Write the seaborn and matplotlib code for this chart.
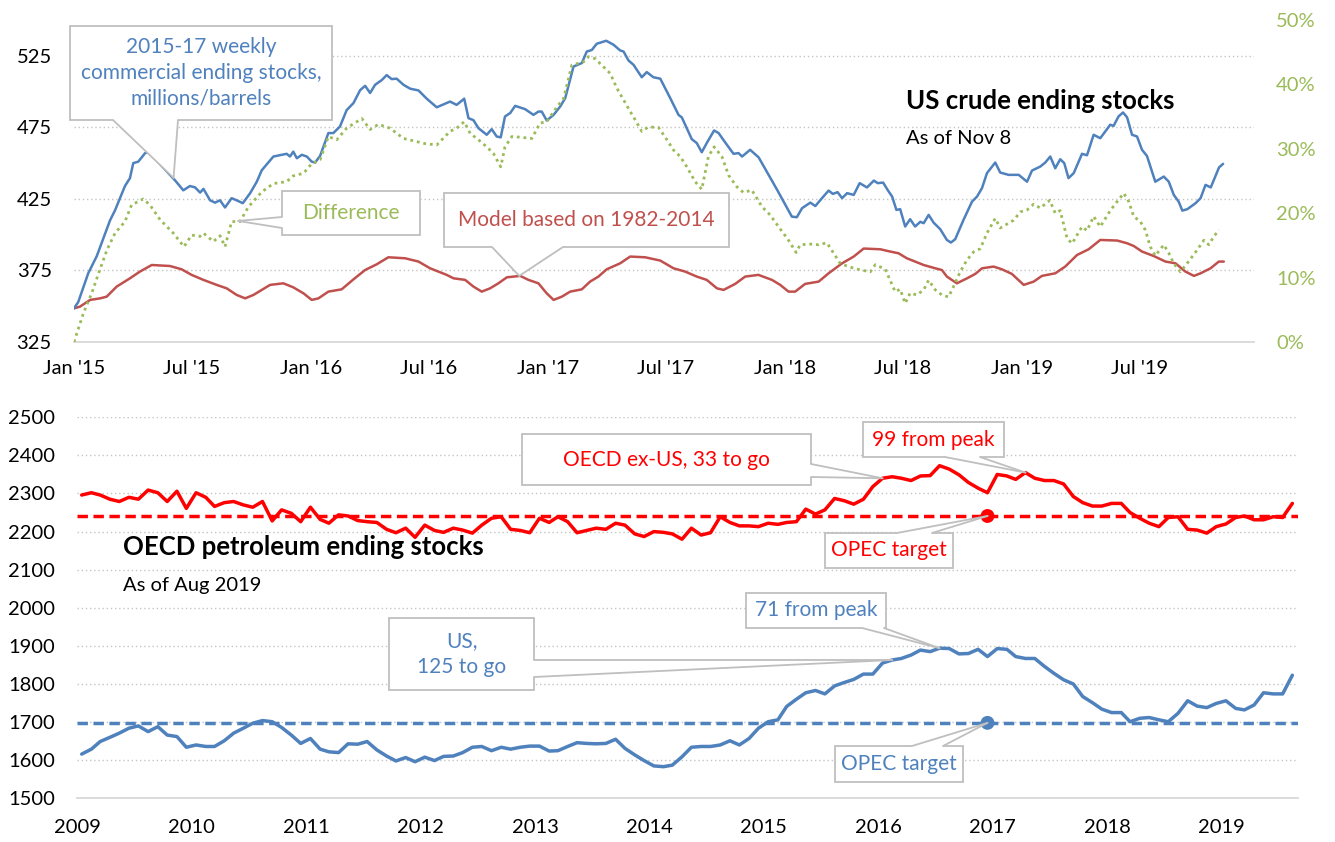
import numpy as np
import pandas as pd
import matplotlib
matplotlib.use('Agg')
import matplotlib.pyplot as plt
import matplotlib.dates as mdates
from matplotlib.patches import Rectangle, Polygon
from matplotlib.lines import Line2D
from matplotlib.ticker import PercentFormatter
import seaborn as sns

# ---------------- top chart: US crude ending stocks (weekly) ----------------
# x values are decimal years
stock_yr = [2015 + t for t in [
    0, .018, .060, .096, .152, .173, .215, .236, .250, .271,
    .300, .320, .370, .426, .461, .489, .511, .532, .546, .574,
    .595, .616, .637, .665, .686, .712, .743, .771, .792, .841,
    .897, .911, .925, .940, .961, .982, 1.003, 1.017, 1.038, 1.073,
    1.094, 1.122, 1.150, 1.179, 1.207, 1.228, 1.249, 1.270, 1.298, 1.319,
    1.340, 1.361, 1.390, 1.418, 1.453, 1.488, 1.530, 1.586, 1.614, 1.646,
    1.664, 1.685, 1.706, 1.741, 1.762, 1.783, 1.800, 1.818, 1.840, 1.861,
    1.903, 1.938, 1.959, 1.973, 1.994, 2.023, 2.051, 2.072, 2.107, 2.142,
    2.163, 2.184, 2.205, 2.245, 2.276, 2.304, 2.318, 2.339, 2.360, 2.395,
    2.416, 2.444, 2.473, 2.515, 2.550, 2.564, 2.606, 2.627, 2.648, 2.669,
    2.700, 2.719, 2.747, 2.782, 2.803, 2.818, 2.852, 2.888, 2.930, 2.966,
    3.001, 3.028, 3.049, 3.071, 3.106, 3.127, 3.155, 3.183, 3.201, 3.221,
    3.240, 3.261, 3.289, 3.314, 3.345, 3.374, 3.390, 3.413, 3.433, 3.451,
    3.469, 3.485, 3.506, 3.527, 3.548, 3.570, 3.584, 3.605, 3.626, 3.654,
    3.682, 3.699, 3.717, 3.752, 3.788, 3.809, 3.830, 3.851, 3.886, 3.907,
    3.942, 3.985, 4.020, 4.041, 4.076, 4.097, 4.118, 4.139, 4.160, 4.177,
    4.195, 4.217, 4.252, 4.273, 4.301, 4.329, 4.371, 4.385, 4.406, 4.425,
    4.442, 4.463, 4.484, 4.505, 4.526, 4.561, 4.597, 4.618, 4.639, 4.660,
    4.675, 4.696, 4.731, 4.752, 4.773, 4.795, 4.830, 4.847]]
stock_val = [
    348.5, 353, 373, 385, 410, 417, 434, 439.5, 450, 451,
    457, 458, 448, 438, 431, 434, 433, 429.4, 432, 424,
    422.4, 424, 419, 425.5, 424, 422, 429, 437, 445, 454.6,
    456.5, 454.6, 458, 453.4, 455.8, 454.6, 451, 450.4, 455, 471,
    471, 475.6, 487, 492, 501, 504, 499, 504.7, 508, 511.5,
    508.7, 509, 504.7, 502, 500.8, 495, 489, 493, 490.7, 495,
    481.4, 480, 474.4, 469.8, 473.7, 468.6, 468, 482.6, 485, 490,
    487.7, 483.7, 486, 486, 479.8, 483.7, 489.6, 495.4, 517.5, 519.9,
    528, 529, 533.4, 535.5, 532.7, 528.7, 528, 521.7, 518.7, 510,
    513.6, 510, 509, 495.4, 483.7, 481.9, 466.7, 464, 457.6, 464,
    472.8, 471, 464.4, 456.5, 457, 454.6, 459.3, 454, 441.8, 431.3,
    420.8, 412.6, 412.2, 418.5, 422.4, 420, 425.5, 430.8, 428.5, 429.7,
    425.5, 429, 427.8, 436, 433, 437.8, 436, 436.4, 431, 426.6,
    417.3, 417.8, 405.7, 410.8, 405.7, 409, 408, 413.8, 408.4, 403.8,
    396.3, 394.5, 396.8, 410.3, 423.1, 426.6, 432.5, 443, 450.4, 443.4,
    441.8, 441.8, 437, 444.8, 447.6, 450.4, 454.6, 446.4, 452.7, 450,
    439.5, 443, 456.5, 455.5, 469.8, 467.4, 476.8, 476, 482.6, 485.4,
    482, 469.8, 468.6, 459.3, 455, 437, 440.6, 437, 427.8, 423,
    416.8, 417.8, 422, 425.5, 434.8, 433, 447, 449.5]

diff_yr = [2015 + t for t in [
    0, .04, .075, .105, .139, .173, .215, .243, .292, .320,
    .363, .419, .464, .496, .531, .546, .588, .616, .637, .665,
    .700, .736, .792, .841, .897, .925, .968, 1.003, 1.038, 1.073,
    1.108, 1.150, 1.214, 1.249, 1.284, 1.333, 1.390, 1.425, 1.481, 1.530,
    1.586, 1.614, 1.646, 1.671, 1.706, 1.741, 1.769, 1.800, 1.818, 1.847,
    1.882, 1.931, 1.966, 1.994, 2.037, 2.065, 2.100, 2.149, 2.170, 2.198,
    2.226, 2.262, 2.290, 2.318, 2.346, 2.367, 2.395, 2.423, 2.466, 2.501,
    2.529, 2.557, 2.585, 2.620, 2.648, 2.676, 2.700, 2.733, 2.761, 2.796,
    2.824, 2.859, 2.902, 2.937, 2.972, 3.014, 3.046, 3.063, 3.106, 3.141,
    3.176, 3.204, 3.232, 3.267, 3.316, 3.359, 3.380, 3.422, 3.464, 3.485,
    3.506, 3.527, 3.555, 3.584, 3.605, 3.633, 3.661, 3.689, 3.710, 3.738,
    3.766, 3.795, 3.823, 3.851, 3.886, 3.907, 3.935, 3.963, 3.992, 4.020,
    4.048, 4.076, 4.116, 4.139, 4.160, 4.189, 4.210, 4.252, 4.273, 4.301,
    4.329, 4.371, 4.400, 4.428, 4.449, 4.470, 4.498, 4.519, 4.540, 4.561,
    4.597, 4.618, 4.639, 4.667, 4.695, 4.730, 4.766, 4.787, 4.808, 4.830]]
diff_pct = [
    0.0, 0.045, 0.076, 0.108, 0.143, 0.169, 0.187, 0.213, 0.222, 0.213,
    0.190, 0.169, 0.148, 0.166, 0.164, 0.169, 0.156, 0.165, 0.148, 0.187,
    0.187, 0.210, 0.233, 0.246, 0.249, 0.258, 0.262, 0.277, 0.283, 0.319,
    0.314, 0.332, 0.347, 0.330, 0.338, 0.332, 0.316, 0.313, 0.308, 0.306,
    0.327, 0.332, 0.342, 0.324, 0.314, 0.303, 0.293, 0.272, 0.303, 0.319,
    0.318, 0.316, 0.340, 0.342, 0.365, 0.378, 0.430, 0.435, 0.443, 0.440,
    0.430, 0.417, 0.394, 0.376, 0.358, 0.345, 0.327, 0.334, 0.333, 0.314,
    0.298, 0.288, 0.272, 0.249, 0.237, 0.288, 0.303, 0.288, 0.259, 0.241,
    0.232, 0.236, 0.210, 0.197, 0.179, 0.158, 0.139, 0.151, 0.152, 0.151,
    0.154, 0.138, 0.122, 0.117, 0.112, 0.109, 0.120, 0.113, 0.078, 0.082,
    0.060, 0.076, 0.073, 0.081, 0.096, 0.081, 0.073, 0.070, 0.086, 0.109,
    0.127, 0.140, 0.145, 0.169, 0.192, 0.177, 0.183, 0.189, 0.202, 0.205,
    0.214, 0.208, 0.220, 0.200, 0.204, 0.161, 0.153, 0.179, 0.173, 0.195,
    0.179, 0.204, 0.218, 0.231, 0.218, 0.195, 0.187, 0.174, 0.148, 0.134,
    0.151, 0.138, 0.122, 0.109, 0.122, 0.139, 0.158, 0.151, 0.164, 0.174]

model_yr = [2015 + t for t in [
    0, .025, .068, .110, .138, .180, .236, .278, .328, .405,
    .454, .496, .546, .602, .644, .686, .722, .757, .792, .827,
    .883, .925, .968, 1.003, 1.031, 1.073, 1.129, 1.179, 1.228, 1.277,
    1.326, 1.397, 1.453, 1.502, 1.572, 1.601, 1.650, 1.685, 1.720, 1.755,
    1.790, 1.826, 1.882, 1.917, 1.959, 1.994, 2.023, 2.058, 2.093, 2.142,
    2.177, 2.212, 2.247, 2.304, 2.346, 2.409, 2.473, 2.529, 2.578, 2.627,
    2.669, 2.712, 2.740, 2.789, 2.831, 2.887, 2.944, 2.979, 3.014, 3.042,
    3.084, 3.141, 3.183, 3.240, 3.289, 3.331, 3.401, 3.443, 3.478, 3.513,
    3.548, 3.584, 3.633, 3.661, 3.682, 3.724, 3.767, 3.802, 3.830, 3.879,
    3.914, 3.956, 4.006, 4.048, 4.083, 4.139, 4.181, 4.231, 4.280, 4.329,
    4.400, 4.442, 4.470, 4.505, 4.554, 4.604, 4.646, 4.688, 4.724, 4.752,
    4.794, 4.829, 4.850]]
model_val = [
    348.5, 349.7, 354.4, 355.5, 356.7, 363.7, 369.5, 374.2, 378.8, 378.1,
    375.8, 371.9, 368.4, 364.9, 362.5, 357.9, 355.5, 357.9, 361.4, 364.9,
    366.0, 363.2, 359.0, 354.4, 355.5, 360.2, 361.8, 368.8, 375.3, 379.3,
    384.2, 383.5, 381.2, 376.5, 371.9, 369.5, 368.4, 363.7, 360.2, 362.5,
    366.0, 370.2, 371.2, 368.4, 366.0, 359.0, 354.4, 356.7, 360.2, 361.8,
    367.2, 370.7, 375.8, 380.0, 384.7, 384.2, 381.9, 376.5, 374.2, 370.7,
    368.4, 362.5, 361.4, 365.6, 370.7, 371.9, 368.4, 364.9, 360.2, 360.2,
    365.6, 367.2, 373.0, 380.0, 384.7, 390.3, 389.8, 388.2, 387.0, 383.5,
    381.2, 378.8, 376.5, 375.3, 370.7, 366.0, 369.5, 372.6, 376.5, 377.7,
    375.8, 372.6, 364.9, 367.2, 371.2, 373.0, 377.7, 385.8, 389.8, 396.3,
    395.9, 394.0, 392.1, 388.2, 385.1, 381.2, 380.0, 374.2, 371.2, 373.0,
    376.5, 381.2, 381.2]

# ---------------- bottom chart: OECD petroleum ending stocks (monthly, Jan 2009 - Aug 2019) ----------------
oecd_ex_us = [
    2296, 2302, 2296, 2285, 2279, 2290, 2285, 2309, 2302, 2279, 2306, 2261,
    2302, 2290, 2266, 2276, 2279, 2270, 2264, 2279, 2228, 2257, 2248, 2226,
    2264, 2232, 2222, 2244, 2241, 2229, 2226, 2224, 2206, 2197, 2209, 2185,
    2217, 2203, 2198, 2209, 2204, 2196, 2217, 2235, 2239, 2206, 2203, 2197,
    2235, 2224, 2239, 2226, 2197, 2203, 2209, 2206, 2222, 2217, 2194, 2187,
    2200, 2198, 2194, 2180, 2209, 2191, 2197, 2239, 2224, 2215, 2215, 2213,
    2222, 2219, 2224, 2226, 2259, 2246, 2257, 2287, 2281, 2272, 2285, 2318,
    2340, 2344, 2340, 2334, 2346, 2347, 2373, 2364, 2349, 2329, 2314, 2302,
    2350, 2346, 2337, 2355, 2340, 2334, 2334, 2325, 2292, 2276, 2267, 2267,
    2274, 2274, 2250, 2235, 2222, 2213, 2237, 2239, 2206, 2204, 2196, 2213,
    2220, 2237, 2241, 2231, 2231, 2239, 2237, 2274]
us_stocks = [
    1616, 1629, 1649, 1660, 1671, 1684, 1690, 1675, 1688, 1666, 1662, 1634,
    1640, 1636, 1636, 1651, 1671, 1684, 1697, 1704, 1701, 1686, 1666, 1644,
    1657, 1629, 1622, 1620, 1643, 1642, 1649, 1627, 1611, 1598, 1607, 1596,
    1608, 1599, 1610, 1611, 1620, 1634, 1636, 1625, 1634, 1629, 1634, 1637,
    1637, 1624, 1625, 1636, 1646, 1644, 1643, 1644, 1655, 1631, 1614, 1599,
    1585, 1583, 1587, 1609, 1634, 1636, 1636, 1640, 1651, 1640, 1657, 1684,
    1701, 1706, 1741, 1760, 1777, 1783, 1774, 1795, 1804, 1812, 1826, 1826,
    1855, 1863, 1867, 1876, 1889, 1885, 1894, 1893, 1879, 1880, 1891, 1872,
    1893, 1891, 1872, 1867, 1867, 1846, 1828, 1811, 1800, 1767, 1751, 1734,
    1725, 1725, 1701, 1710, 1712, 1706, 1701, 1723, 1756, 1742, 1738, 1749,
    1756, 1736, 1732, 1745, 1777, 1774, 1774, 1823]
oecd_ex_us_target = 2241
us_target = 1698
target_month = '2016-12-15'

BLUE = '#4F81BD'
GREEN = '#9BBB59'
RED_T = '#C0504D'
RED = '#FF0000'
GRID = '#C4C4C4'
EDGE = '#BFBFBF'
AXIS = '#D9D9D9'
W, H = 1335, 842
TICK_FS = 14.5
NOTE_FS = 15


def to_date(yrs):
    yrs = np.asarray(yrs, dtype=float)
    return pd.Timestamp('2015-01-01') + pd.to_timedelta((yrs - 2015) * 365.25, unit='D')


sns.set_style('white')
plt.rcParams['font.family'] = ['Lato', 'DejaVu Sans']

fig = plt.figure(figsize=(W / 100, H / 100), dpi=100)


def frame(x0, y0, x1, y1):
    # image pixel box -> figure fraction rect
    return [x0 / W, 1 - y1 / H, (x1 - x0) / W, (y1 - y0) / H]


def style_axes(a, yticks):
    for s in ['top', 'left', 'right']:
        a.spines[s].set_visible(False)
    a.spines['bottom'].set_color(AXIS)
    a.spines['bottom'].set_linewidth(1.3)
    a.set_yticks(yticks)
    a.grid(axis='y', color=GRID, linestyle=(0, (1, 2)), linewidth=1)
    a.grid(axis='x', visible=False)
    a.tick_params(axis='x', length=7, width=1.3, color=AXIS, pad=6, labelsize=TICK_FS, labelcolor='black')
    a.tick_params(axis='y', length=0, pad=16, labelsize=TICK_FS, labelcolor='black')
    a.set_xlabel('')
    a.set_ylabel('')


# ---- top panel ----
ax = fig.add_axes(frame(74, 20, 1254, 342))
axr = ax.twinx()
sns.lineplot(x=to_date(model_yr), y=model_val, ax=ax, color=RED_T, linewidth=1.8)
sns.lineplot(x=to_date(stock_yr), y=stock_val, ax=ax, color=BLUE, linewidth=1.8)
sns.lineplot(x=to_date(diff_yr), y=diff_pct, ax=axr, color=GREEN, linewidth=2,
             linestyle=(0, (1, 1.4)))

ax.set_xlim(pd.Timestamp('2015-01-01'), pd.Timestamp('2019-12-24'))
ax.set_ylim(325, 550)
axr.set_ylim(0, 0.5)
style_axes(ax, [325, 375, 425, 475, 525])
top_ticks = pd.date_range('2015-01-01', '2019-07-01', freq='6MS')
ax.set_xticks(top_ticks)
ax.set_xticklabels([d.strftime("%b '%y") for d in top_ticks])

for s in axr.spines.values():
    s.set_visible(False)
axr.set_yticks([0, 0.1, 0.2, 0.3, 0.4, 0.5])
axr.yaxis.set_major_formatter(PercentFormatter(1.0, decimals=0))
axr.tick_params(axis='y', length=0, pad=16, labelsize=TICK_FS, labelcolor=GREEN)
axr.grid(False)
axr.set_ylabel('')

# ---- bottom panel ----
ax2 = fig.add_axes(frame(77.3, 417.3, 1298, 798.3))
months = pd.date_range('2009-01-01', periods=len(us_stocks), freq='MS') + pd.Timedelta(days=14)
sns.lineplot(x=months, y=oecd_ex_us, ax=ax2, color=RED, linewidth=2.5)
sns.lineplot(x=months, y=us_stocks, ax=ax2, color=BLUE, linewidth=2.5)
ax2.axhline(oecd_ex_us_target, color=RED, linewidth=2.5, dashes=(3, 1.6))
ax2.axhline(us_target, color=BLUE, linewidth=2.5, dashes=(3, 1.6))
sns.scatterplot(x=[pd.Timestamp(target_month)] * 2, y=[oecd_ex_us_target, us_target], ax=ax2,
                hue=['ex', 'us'], palette=[RED, BLUE], s=100, linewidth=0, legend=False, zorder=4)
ax2.set_xlim(pd.Timestamp('2009-01-01'), pd.Timestamp('2019-09-02'))
ax2.set_ylim(1500, 2500)
style_axes(ax2, list(range(1500, 2501, 100)))
year_ticks = pd.date_range('2009-01-01', '2019-01-01', freq='YS')
ax2.set_xticks(year_ticks)
ax2.set_xticklabels([str(d.year) for d in year_ticks])
ax2.tick_params(axis='x', pad=8)


# ---- titles ----
def fig_text(x, y, s, **kw):
    fig.text(x / W, 1 - y / H, s, va='center', ha='left', color='black', **kw)


fig_text(906, 101, 'US crude ending stocks', fontsize=18.5, fontweight='bold')
fig_text(906, 139, 'As of Nov 8', fontsize=14.5)
fig_text(123, 547, 'OECD petroleum ending stocks', fontsize=18.5, fontweight='bold')
fig_text(123, 585, 'As of Aug 2019', fontsize=14.5)


# ---- callout boxes with wedge pointers ----
def callout(text, box, side, span, tip, trans, color):
    x0, y0, x1, y1 = box
    f = lambda px, py: (px / W, 1 - py / H)
    tip_f = tuple(fig.transFigure.inverted().transform(trans.transform(tip)))
    if side == 'bottom':
        b = [(span[0], y1), (span[1], y1)]
        inner = [(span[0], y1 - 3), (span[1], y1 - 3)]
    elif side == 'top':
        b = [(span[0], y0), (span[1], y0)]
        inner = [(span[0], y0 + 3), (span[1], y0 + 3)]
    elif side == 'left':
        b = [(x0, span[0]), (x0, span[1])]
        inner = [(x0 + 3, span[0]), (x0 + 3, span[1])]
    else:
        b = [(x1, span[0]), (x1, span[1])]
        inner = [(x1 - 3, span[0]), (x1 - 3, span[1])]
    fig.add_artist(Rectangle(f(x0, y1), (x1 - x0) / W, (y1 - y0) / H, transform=fig.transFigure,
                             fc='white', ec=EDGE, lw=1.3, zorder=5))
    poly = [f(*inner[0]), f(*b[0]), tip_f, f(*b[1]), f(*inner[1])]
    fig.add_artist(Polygon(poly, closed=True, transform=fig.transFigure, fc='white', ec='none', zorder=6))
    for p in b:
        q = f(*p)
        fig.add_artist(Line2D([q[0], tip_f[0]], [q[1], tip_f[1]], transform=fig.transFigure,
                              color=EDGE, lw=1.3, zorder=6))
    fig.text((x0 + x1) / 2 / W, 1 - (y0 + y1) / 2 / H, text, ha='center', va='center',
             fontsize=NOTE_FS, color=color, linespacing=1.35, zorder=7)


num = mdates.date2num
callout('2015-17 weekly\ncommercial ending stocks,\nmillions/barrels', (70, 26, 332, 120), 'bottom',
        (113, 178), (num(to_date([2015.42])[0]), 439.7), ax.transData, BLUE)
callout('Difference', (282, 191, 420, 235), 'left', (217, 228),
        (num(to_date([2015.692])[0]), 0.188), axr.transData, GREEN)
callout('Model based on 1982-2014', (444, 193, 729, 247), 'bottom', (492, 563),
        (num(to_date([2016.878])[0]), 371.2), ax.transData, RED_T)

callout('OECD ex-US, 33 to go', (522, 434, 811, 485), 'right', (464, 477),
        (num(months[84]), oecd_ex_us[84]), ax2.transData, RED)
callout('99 from peak', (863, 422, 1004, 457), 'bottom', (945, 980),
        (num(months[99]), oecd_ex_us[99]), ax2.transData, RED)
callout('OPEC target', (825, 533, 953, 568), 'top', (897, 932),
        (num(pd.Timestamp(target_month)), oecd_ex_us_target), ax2.transData, RED)
callout('US,\n125 to go', (389, 618, 534, 690), 'right', (660, 677),
        (num(months[85]), us_stocks[85]), ax2.transData, BLUE)
callout('71 from peak', (746, 593, 886, 628), 'bottom', (862, 884),
        (num(months[90]), us_stocks[90]), ax2.transData, BLUE)
callout('OPEC target', (835, 746, 963, 782), 'top', (912, 943),
        (num(pd.Timestamp(target_month)), us_target), ax2.transData, BLUE)

fig.savefig('out.png', dpi=100)
plt.close(fig)
